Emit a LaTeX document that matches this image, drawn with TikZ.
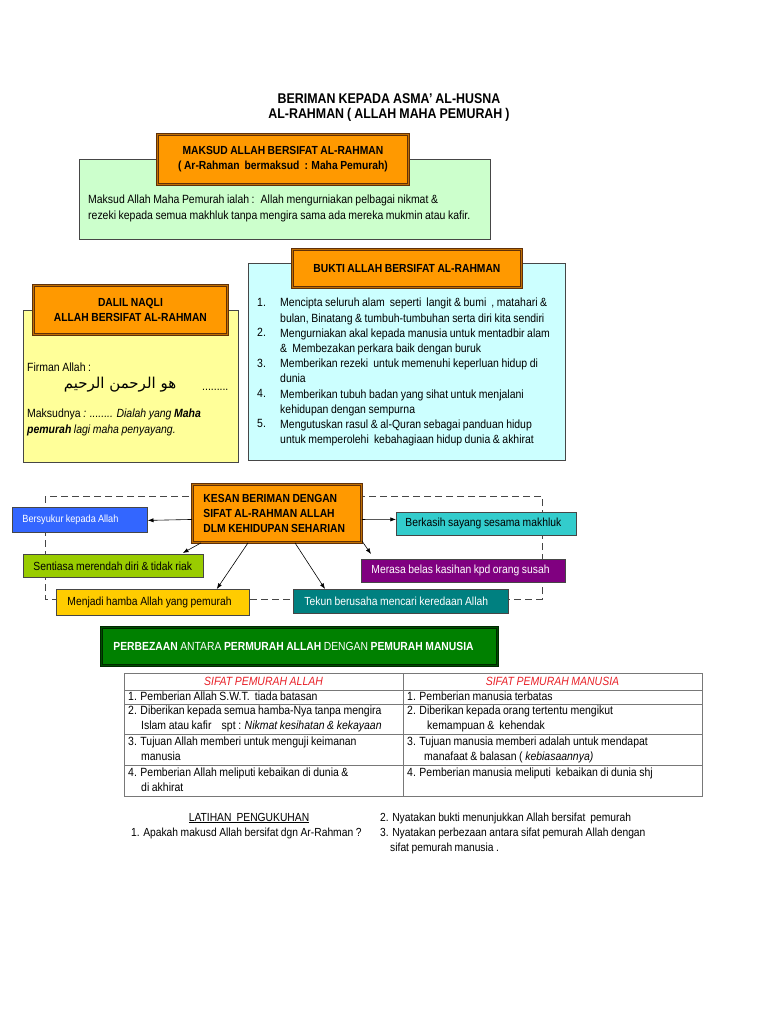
\documentclass[tikz,border=0pt]{standalone}
\usepackage{fontspec}
\setmainfont{Liberation Sans}[FakeStretch=0.88, WordSpace=0.88]
\newfontfamily\arabicfont[Script=Arabic]{DejaVu Sans}
\TeXXeTstate=1
\usetikzlibrary{arrows.meta,positioning}

\definecolor{amberC}{RGB}{255,153,0}
\definecolor{barkC}{RGB}{96,48,8}
\definecolor{mintC}{RGB}{204,255,204}
\definecolor{creamC}{RGB}{255,255,153}
\definecolor{iceC}{RGB}{204,255,255}
\definecolor{slateC}{RGB}{70,70,70}
\definecolor{royalC}{RGB}{51,102,255}
\definecolor{limeC}{RGB}{153,204,0}
\definecolor{goldC}{RGB}{255,204,0}
\definecolor{aquaC}{RGB}{51,204,204}
\definecolor{plumC}{RGB}{128,0,128}
\definecolor{tealC}{RGB}{0,128,128}
\definecolor{leafC}{RGB}{0,128,0}
\definecolor{pineC}{RGB}{0,40,0}
\definecolor{redC}{RGB}{232,32,40}
\definecolor{gridC}{RGB}{120,120,120}

\newcommand\bodysz{\fontsize{11.9}{15.3}\selectfont}
\newcommand\boxsz{\fontsize{11.7}{15.3}\selectfont}
\newcommand\tagsz{\fontsize{11.75}{15.3}\selectfont}
\newcommand\tabsz{\fontsize{11.9}{15}\selectfont}
\newcommand\titlesz{\fontsize{14.1}{15}\selectfont}
\newcommand\lefttext[2]{\makebox[#1][l]{#2}}

\tikzset{
  banner/.style={draw=barkC, double=amberC!60!barkC, double distance=0.8pt, line width=0.9pt,
    fill=amberC, font=\boxsz\bfseries, align=center, anchor=north west, inner sep=0pt},
  panel/.style={draw=slateC, line width=0.8pt, anchor=north west, inner sep=0pt},
  effect/.style={draw=slateC, line width=0.8pt, anchor=north west,
    inner xsep=10pt, inner ysep=0pt, font=\tagsz},
  link/.style={->, line width=0.6pt},
  dashline/.style={draw=slateC, line width=0.8pt, dash pattern=on 7pt off 4pt},
  grid/.style={draw=gridC, line width=0.7pt},
  cell/.style={anchor=north west, align=left, font=\tabsz, inner sep=0pt},
  txt/.style={font=\bodysz, inner sep=0pt},
}

\begin{document}
\begin{tikzpicture}[x=1pt, y=-1pt, >=Latex]
\useasboundingbox[fill=white] (0,0) rectangle (768,1024);

% title
\node[font=\titlesz\bfseries, align=center, inner sep=0pt] (judul) at (389,108)
  {BERIMAN KEPADA ASMA’ AL-HUSNA\\AL-RAHMAN ( ALLAH MAHA PEMURAH )};

% maksud
\node[panel, fill=mintC, minimum width=411pt, minimum height=80pt] (maksud) at (79,159) {};
\node[banner, minimum width=251pt, minimum height=50pt] (maksudhdr) at (157,134)
  {MAKSUD ALLAH BERSIFAT AL-RAHMAN\\( Ar-Rahman~ bermaksud~ : Maha Pemurah)};
\node[txt, anchor=north west, align=left] (maksudtxt) at (88,195)
  {Maksud Allah Maha Pemurah ialah :~ Allah mengurniakan pelbagai nikmat \&\\
   rezeki kepada semua makhluk tanpa mengira sama ada mereka mukmin atau kafir.};

% dalil naqli
\node[panel, fill=creamC, minimum width=215pt, minimum height=152pt] (dalil) at (23,310) {};
\node[banner, minimum width=194pt, minimum height=49pt] (dalilhdr) at (33,285)
  {DALIL NAQLI\\ALLAH BERSIFAT AL-RAHMAN};
\node[txt, anchor=west] (firman) at (27,367) {Firman Allah :};
\node[font={\arabicfont\fontsize{15}{18}\selectfont}, inner sep=0pt] (ayat) at (120,385)
  {\beginR هو الرحمن الرحيم\endR};
\node[txt, anchor=base west] (titik) at (202,390) {.........};
\node[txt, anchor=north west, align=left] (maksudnya) at (27,409)
  {Maksudnya \textit{: ........ Dialah yang \textbf{Maha}}\\
   \textit{\textbf{pemurah} lagi maha penyayang.}};

% bukti
\node[panel, fill=iceC, minimum width=317pt, minimum height=197pt] (bukti) at (248,263) {};
\node[banner, minimum width=229pt, minimum height=38pt] (buktihdr) at (292,249)
  {BUKTI ALLAH BERSIFAT AL-RAHMAN};
\foreach \txt [count=\i] in {
  {Mencipta seluruh alam~ seperti~ langit \& bumi~ , matahari \&\\bulan, Binatang \& tumbuh-tumbuhan serta diri kita sendiri},
  {Mengurniakan akal kepada manusia untuk mentadbir alam\\\&~ Membezakan perkara baik dengan buruk},
  {Memberikan rezeki~ untuk memenuhi keperluan hidup di\\dunia},
  {Memberikan tubuh badan yang sihat untuk menjalani\\kehidupan dengan sempurna},
  {Mengutuskan rasul \& al-Quran sebagai panduan hidup\\untuk memperolehi~ kebahagiaan hidup dunia \& akhirat}}
{
  \node[txt, anchor=north west] (no\i) at (257,{298+(\i-1)*30.4}) {\i.};
  \node[txt, anchor=north west, align=left] (bukti\i) at (280,{298+(\i-1)*30.4}) {\txt};
}

% kesan
\draw[dashline] (45,496) rectangle (542,599);
\node[banner, align=left, minimum height=58pt, inner xsep=11pt] (kesan) at (192,484)
  {\lefttext{147pt}{KESAN BERIMAN DENGAN}\\\lefttext{147pt}{SIFAT AL-RAHMAN ALLAH}\\
   \lefttext{147pt}{DLM KEHIDUPAN SEHARIAN}};
\node[effect, fill=royalC, text=white, minimum height=25pt,
  font=\fontsize{10.4}{15}\selectfont] (syukur) at (12,507)
  {\lefttext{115pt}{Bersyukur kepada Allah}};
\node[effect, fill=limeC, minimum height=23pt] (rendah) at (23,554)
  {\lefttext{160pt}{Sentiasa merendah diri \& tidak riak}};
\node[effect, fill=goldC, minimum height=26pt, inner xsep=11pt] (hamba) at (56,589)
  {\lefttext{171pt}{Menjadi hamba Allah yang pemurah}};
\node[effect, fill=aquaC, minimum height=23pt, inner xsep=9pt] (kasih) at (396,512)
  {\lefttext{162pt}{Berkasih sayang sesama makhluk}};
\node[effect, fill=plumC, text=white, minimum height=23pt] (belas) at (361,559)
  {\lefttext{184pt}{Merasa belas kasihan kpd orang susah}};
\node[effect, fill=tealC, text=white, minimum height=24pt, inner xsep=11pt] (tekun) at (293,589)
  {\lefttext{193pt}{Tekun berusaha mencari keredaan Allah}};

\draw[link] ([yshift=-6pt]kesan.west) -- ([yshift=-0.5pt]syukur.east);
\draw[link] ([yshift=-6pt]kesan.east) -- ([yshift=4.5pt]kasih.west);
\draw[link] ([xshift=9pt]kesan.south west) -- ([xshift=-21pt,yshift=1pt]rendah.north east);
\draw[link] ([xshift=56pt]kesan.south west) -- ([xshift=-33pt]hamba.north east);
\draw[link] ([xshift=103pt]kesan.south west) -- ([xshift=32pt]tekun.north west);
\draw[link] ([yshift=2pt]kesan.south east) -- ([xshift=10pt,yshift=5pt]belas.north west);

% perbezaan
\node[draw=pineC, double=leafC!60!black, double distance=0.8pt, line width=0.9pt, fill=leafC,
  text=white, font=\fontsize{11.75}{15}\selectfont, anchor=north west, minimum height=38pt,
  inner xsep=12pt, inner ysep=0pt] (beza) at (101,627)
  {\lefttext{372pt}{\textbf{PERBEZAAN} ANTARA \textbf{PERMURAH ALLAH} DENGAN \textbf{PEMURAH MANUSIA}}};

% table
\draw[grid] (124,673) rectangle (702,796);
\draw[grid] (403,673) -- (403,796);
\foreach \y in {690,704,734,765}
  \draw[grid] (124,\y) -- (702,\y);
\node[font=\tabsz\itshape, text=redC, inner sep=0pt] (kolallah) at (263.5,681.5) {SIFAT PEMURAH ALLAH};
\node[font=\tabsz\itshape, text=redC, inner sep=0pt] (kolmanusia) at (552.5,681.5) {SIFAT PEMURAH MANUSIA};
\node[cell] (allah1) at (128,692) {1. Pemberian Allah S.W.T.~ tiada batasan};
\node[cell] (allah2) at (128,706) {2. Diberikan kepada semua hamba-Nya tanpa mengira\\
  \hspace*{13pt}Islam atau kafir~~~ spt : \textit{Nikmat kesihatan \& kekayaan}};
\node[cell] (allah3) at (128,737) {3. Tujuan Allah memberi untuk menguji keimanan\\\hspace*{13pt}manusia};
\node[cell] (allah4) at (128,768) {4. Pemberian Allah meliputi kebaikan di dunia \&\\\hspace*{13pt}di akhirat};
\node[cell] (manusia1) at (407,692) {1. Pemberian manusia terbatas};
\node[cell] (manusia2) at (407,706) {2. Diberikan kepada orang tertentu mengikut\\\hspace*{20pt}kemampuan \&~ kehendak};
\node[cell] (manusia3) at (407,737) {3. Tujuan manusia memberi adalah untuk mendapat\\
  \hspace*{17pt}manafaat \& balasan ( \textit{kebiasaannya)}};
\node[cell] (manusia4) at (407,768) {4. Pemberian manusia meliputi~ kebaikan di dunia shj};

% latihan
\node[font=\boxsz, inner sep=0pt] (latihan) at (249,818) {\underline{LATIHAN~ PENGUKUHAN}};
\node[font=\boxsz, inner sep=0pt, anchor=west] (soalan1) at (131,833) {1. Apakah makusd Allah bersifat dgn Ar-Rahman ?};
\node[font=\boxsz, inner sep=0pt, anchor=north west, align=left] (soalan2) at (380,812.5)
  {2. Nyatakan bukti menunjukkan Allah bersifat~ pemurah\\
   3. Nyatakan perbezaan antara sifat pemurah Allah dengan\\
   \hspace*{10pt}sifat pemurah manusia .};
\end{tikzpicture}
\end{document}
